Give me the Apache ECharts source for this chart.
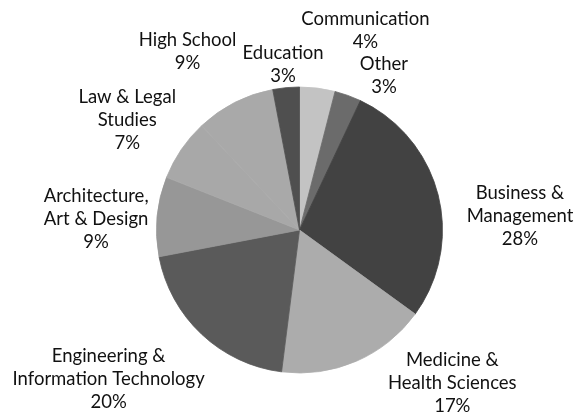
<!DOCTYPE html>
<html>
<head>
<meta charset="utf-8">
<script src="https://cdn.jsdelivr.net/npm/echarts@6/dist/echarts.min.js"></script>
<style>
  html, body { margin: 0; padding: 0; background: #ffffff; }
  #chart { width: 576px; height: 413px; }
</style>
</head>
<body>
<div id="chart"></div>
<script>
// Fields of study, clockwise from 12 o'clock
const fields = [
  'Communication',
  'Other',
  'Business &\nManagement',
  'Medicine &\nHealth Sciences',
  'Engineering &\nInformation Technology',
  'Architecture,\nArt & Design',
  'Law & Legal\nStudies',
  'High School',
  'Education'
];
// Share of respondents, percent
const shares = [4, 3, 28, 17, 20, 9, 7, 9, 3];

// Greyscale fill per slice
const sliceColors = ['#c3c3c3', '#6b6b6b', '#424242', '#acacac', '#5a5a5a', '#979797', '#a8a8a8', '#a9a9a9', '#4f4f4f'];
// Label offset from the slice's rim midpoint (px)
const labelShift = [[48, -58], [36, -20], [82, 22], [96, 22], [-93, 45], [-61, 2], [-54, -30], [-47, -51], [-3, -23]];

const chart = echarts.init(document.getElementById('chart'), null, { renderer: 'canvas' });

chart.setOption({
  animation: false,
  series: [{
    type: 'pie',
    center: [299.5, 230],
    radius: 143,
    startAngle: 90,
    clockwise: true,
    avoidLabelOverlap: false,
    percentPrecision: 0,
    data: fields.map((name, i) => ({
      name: name,
      value: shares[i],
      // stroke in the fill colour so neighbouring slices meet without a seam
      itemStyle: { color: sliceColors[i], borderColor: sliceColors[i], borderWidth: 0.8 }
    })),
    label: {
      show: true,
      position: 'outside',
      formatter: '{b}\n{d}%',
      fontFamily: 'Lato',
      fontSize: 18.5,
      lineHeight: 23,
      color: '#111111',
      align: 'center'
    },
    labelLine: { show: false },
    emphasis: { disabled: true },
    labelLayout: function (params) {
      const data = chart.getModel().getSeriesByIndex(0).getData();
      const lay = data.getItemLayout(params.dataIndex);
      const mid = (lay.startAngle + lay.endAngle) / 2;
      const sh = labelShift[params.dataIndex];
      return {
        x: lay.cx + Math.cos(mid) * lay.r + sh[0],
        y: lay.cy + Math.sin(mid) * lay.r + sh[1],
        align: 'center',
        verticalAlign: 'middle'
      };
    }
  }]
});
</script>
</body>
</html>
